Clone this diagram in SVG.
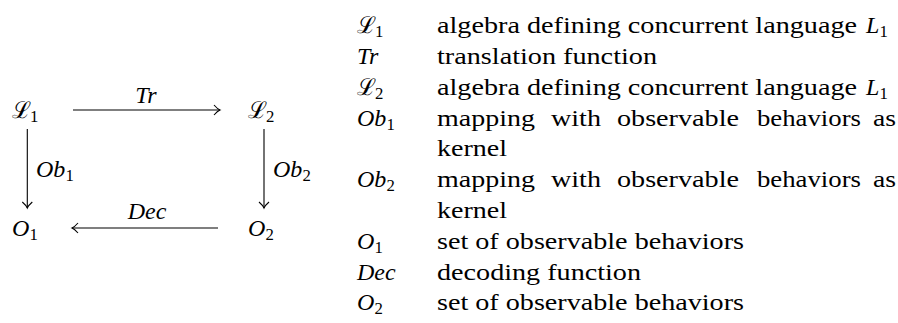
<svg xmlns="http://www.w3.org/2000/svg" width="898" height="323" viewBox="0 0 898 323">
<defs>
<marker id="arr" viewBox="-8 -6 10 12" refX="0" refY="0" markerWidth="10" markerHeight="12" markerUnits="userSpaceOnUse" orient="auto">
<path d="M-6,-5 Q-2.5,-1 0,0 Q-2.5,1 -6,5" fill="none" stroke="#000" stroke-width="1.1"/>
</marker>
</defs>
<g id="diagram-nodes" fill="#000" font-size="24">
<g id="nL1"><text x="12" y="118" font-size="23" font-family="DejaVu Serif">ℒ</text><text font-family="Liberation Serif" transform="translate(30,122) scale(0.7)">1</text></g>
<g id="nL2"><text x="248" y="118" font-size="23" font-family="DejaVu Serif">ℒ</text><text font-family="Liberation Serif" transform="translate(266,122) scale(0.7)">2</text></g>
<g id="nO1"><text x="12" y="236" font-family="Liberation Serif" font-style="italic">O</text><text font-family="Liberation Serif" transform="translate(29.5,240) scale(0.7)">1</text></g>
<g id="nO2"><text x="248" y="236" font-family="Liberation Serif" font-style="italic">O</text><text font-family="Liberation Serif" transform="translate(265.5,240) scale(0.7)">2</text></g>
</g>
<g id="connectors" stroke="#000" stroke-width="1.1" fill="none">
<path d="M73,110 H220" marker-end="url(#arr)"/>
<path d="M218,228 H72" marker-end="url(#arr)"/>
<path d="M27.3,129 V208" marker-end="url(#arr)"/>
<path d="M264,129 V208" marker-end="url(#arr)"/>
</g>
<g id="connector-labels" fill="#000" font-size="24">
<text x="146" y="103" text-anchor="middle" font-family="Liberation Serif" font-style="italic">Tr</text>
<text x="147" y="219" text-anchor="middle" font-family="Liberation Serif" font-style="italic">Dec</text>
<text x="36" y="177" font-family="Liberation Serif" font-style="italic">Ob</text><text font-family="Liberation Serif" transform="translate(65.5,181) scale(0.7)">1</text>
<text x="273" y="177" font-family="Liberation Serif" font-style="italic">Ob</text><text font-family="Liberation Serif" transform="translate(302.5,181) scale(0.7)">2</text>
</g>
<g id="legend" fill="#000" font-size="24">
<text x="357" y="33" font-size="23" font-family="DejaVu Serif">ℒ</text><text font-family="Liberation Serif" transform="translate(375,37) scale(0.7)">1</text>
<text x="437" y="33" font-family="Liberation Serif" textLength="420" lengthAdjust="spacingAndGlyphs">algebra defining concurrent language</text>
<text x="866" y="33" font-family="Liberation Serif" font-style="italic">L</text><text font-family="Liberation Serif" transform="translate(879.5,37) scale(0.7)">1</text>

<text x="357" y="64" font-family="Liberation Serif" font-style="italic">Tr</text>
<text x="437" y="64" font-family="Liberation Serif" textLength="220" lengthAdjust="spacingAndGlyphs">translation function</text>

<text x="357" y="95" font-size="23" font-family="DejaVu Serif">ℒ</text><text font-family="Liberation Serif" transform="translate(375,99) scale(0.7)">2</text>
<text x="437" y="95" font-family="Liberation Serif" textLength="420" lengthAdjust="spacingAndGlyphs">algebra defining concurrent language</text>
<text x="866" y="95" font-family="Liberation Serif" font-style="italic">L</text><text font-family="Liberation Serif" transform="translate(879.5,99) scale(0.7)">1</text>

<text x="357" y="126" font-family="Liberation Serif" font-style="italic">Ob</text><text font-family="Liberation Serif" transform="translate(386.5,130) scale(0.7)">1</text>
<text x="437" y="126" font-family="Liberation Serif" textLength="98" lengthAdjust="spacingAndGlyphs">mapping</text>
<text x="551" y="126" font-family="Liberation Serif" textLength="50" lengthAdjust="spacingAndGlyphs">with</text>
<text x="617" y="126" font-family="Liberation Serif" textLength="122" lengthAdjust="spacingAndGlyphs">observable</text>
<text x="757" y="126" font-family="Liberation Serif" textLength="104" lengthAdjust="spacingAndGlyphs">behaviors</text>
<text x="873" y="126" font-family="Liberation Serif" textLength="23" lengthAdjust="spacingAndGlyphs">as</text>
<text x="437" y="156" font-family="Liberation Serif" textLength="70" lengthAdjust="spacingAndGlyphs">kernel</text>

<text x="357" y="187" font-family="Liberation Serif" font-style="italic">Ob</text><text font-family="Liberation Serif" transform="translate(386.5,191) scale(0.7)">2</text>
<text x="437" y="187" font-family="Liberation Serif" textLength="98" lengthAdjust="spacingAndGlyphs">mapping</text>
<text x="551" y="187" font-family="Liberation Serif" textLength="50" lengthAdjust="spacingAndGlyphs">with</text>
<text x="617" y="187" font-family="Liberation Serif" textLength="122" lengthAdjust="spacingAndGlyphs">observable</text>
<text x="757" y="187" font-family="Liberation Serif" textLength="104" lengthAdjust="spacingAndGlyphs">behaviors</text>
<text x="873" y="187" font-family="Liberation Serif" textLength="23" lengthAdjust="spacingAndGlyphs">as</text>
<text x="437" y="218" font-family="Liberation Serif" textLength="70" lengthAdjust="spacingAndGlyphs">kernel</text>

<text x="357" y="249" font-family="Liberation Serif" font-style="italic">O</text><text font-family="Liberation Serif" transform="translate(374.5,253) scale(0.7)">1</text>
<text x="437" y="249" font-family="Liberation Serif" textLength="307" lengthAdjust="spacingAndGlyphs">set of observable behaviors</text>

<text x="357" y="280" font-family="Liberation Serif" font-style="italic">Dec</text>
<text x="437" y="280" font-family="Liberation Serif" textLength="204" lengthAdjust="spacingAndGlyphs">decoding function</text>

<text x="357" y="310" font-family="Liberation Serif" font-style="italic">O</text><text font-family="Liberation Serif" transform="translate(374.5,314) scale(0.7)">2</text>
<text x="437" y="310" font-family="Liberation Serif" textLength="307" lengthAdjust="spacingAndGlyphs">set of observable behaviors</text>
</g>
</svg>
